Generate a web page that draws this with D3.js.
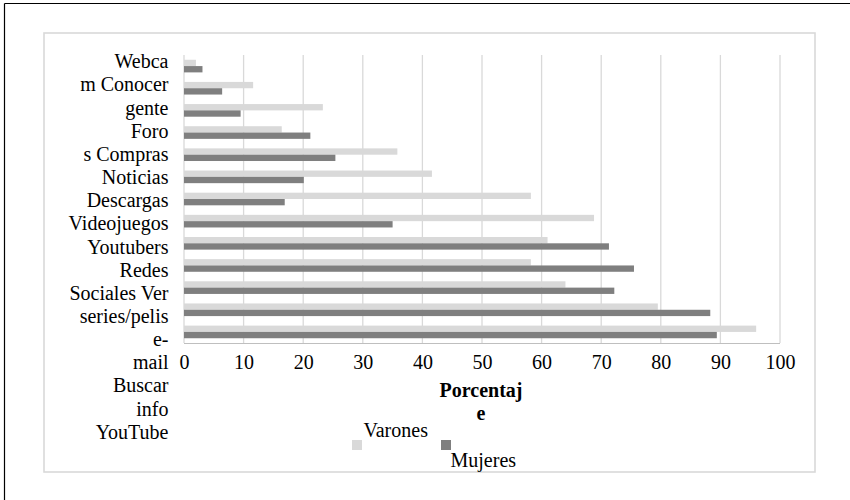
<!DOCTYPE html>
<html>
<head>
<meta charset="utf-8">
<script src="https://cdn.jsdelivr.net/npm/d3@7/dist/d3.min.js"></script>
<style>
  html, body { margin: 0; padding: 0; background: #ffffff; }
  svg { display: block; }
  text { font-family: "Liberation Serif", "Times New Roman", serif; fill: #000; }
</style>
</head>
<body>
<svg id="chart" width="850" height="500"></svg>
<script>
// Internet activities by sex (percentage)
const categories = ["Webcam", "Conocer gente", "Foros", "Compras", "Noticias", "Descargas",
  "Videojuegos", "Youtubers", "Redes Sociales", "Ver series/pelis", "e-mail", "Buscar info", "YouTube"];
const varones = [2, 11.6, 23.3, 16.4, 35.8, 41.6, 58.2, 68.8, 61, 58.2, 64, 79.5, 96];
const mujeres = [3.1, 6.4, 9.5, 21.2, 25.4, 20.1, 16.9, 35, 71.3, 75.5, 72.2, 88.3, 89.4];
const seriesNames = ["Varones", "Mujeres"];
const seriesColors = ["#d9d9d9", "#7f7f7f"];
const xTicks = [0, 10, 20, 30, 40, 50, 60, 70, 80, 90, 100];
// category text as it wraps in the narrow label column
const labelLines = ["Webca", "m Conocer", "gente", "Foro", "s Compras", "Noticias", "Descargas",
  "Videojuegos", "Youtubers", "Redes", "Sociales Ver", "series/pelis", "e-", "mail",
  "Buscar", "info", "YouTube"];
const axisTitleLines = ["Porcentaj", "e"];

const FONT_SIZE = "20px";
const svg = d3.select("#chart");

// outer frame (top and left edges)
svg.append("line").attr("x1", 4.5).attr("x2", 850).attr("y1", 3.5).attr("y2", 3.5)
  .attr("stroke", "#000").attr("stroke-width", 1.2);
svg.append("line").attr("x1", 4.5).attr("x2", 4.5).attr("y1", 3.5).attr("y2", 500)
  .attr("stroke", "#000").attr("stroke-width", 1.2);

// chart area border
svg.append("rect").attr("x", 44).attr("y", 33).attr("width", 771).attr("height", 439)
  .attr("fill", "none").attr("stroke", "#d9d9d9").attr("stroke-width", 1.6);

const plotTop = 55, plotBottom = 343;
const x = d3.scaleLinear().domain([0, 100]).range([184, 780]);
const y = d3.scaleBand().domain(categories).range([plotTop, plotBottom])
  .paddingInner(0.43).paddingOuter(0.215);
const ySub = d3.scaleBand().domain(seriesNames).range([0, y.bandwidth()]);

// vertical gridlines
svg.append("g").selectAll("line").data(xTicks).join("line")
  .attr("x1", d => x(d)).attr("x2", d => x(d))
  .attr("y1", plotTop).attr("y2", plotBottom)
  .attr("stroke", "#d9d9d9").attr("stroke-width", 1.3);

// bars
const rows = categories.map((c, i) => ({ cat: c, vals: [varones[i], mujeres[i]] }));
const groups = svg.append("g").selectAll("g").data(rows).join("g")
  .attr("transform", d => `translate(0,${y(d.cat)})`);
groups.selectAll("rect").data(d => d.vals.map((v, j) => ({ v, s: seriesNames[j], c: seriesColors[j] })))
  .join("rect")
  .attr("x", x(0))
  .attr("y", d => ySub(d.s))
  .attr("width", d => x(d.v) - x(0))
  .attr("height", ySub.bandwidth())
  .attr("fill", d => d.c);

// bottom value axis
const xAxis = svg.append("g").attr("transform", `translate(0,${plotBottom})`)
  .call(d3.axisBottom(x).tickValues(xTicks).tickSize(0).tickFormat(d3.format("d")));
xAxis.select(".domain").attr("stroke", "#bfbfbf").attr("stroke-width", 1.2)
  .attr("d", `M${x(0)},0.5H${x(100)}`);
xAxis.selectAll("text").attr("y", 26.3).attr("dy", 0)
  .style("font-family", '"Liberation Serif", "Times New Roman", serif')
  .style("font-size", FONT_SIZE).attr("fill", "#000");

// category labels
svg.append("g").selectAll("text").data(labelLines).join("text")
  .attr("x", 168.5).attr("y", (d, i) => 68.3 + i * 23.15)
  .attr("text-anchor", "end").style("font-size", FONT_SIZE).text(d => d);

// axis title
svg.append("g").selectAll("text").data(axisTitleLines).join("text")
  .attr("x", (x(0) + x(100)) / 2 - 1).attr("y", (d, i) => 396.7 + i * 23.3)
  .attr("text-anchor", "middle").style("font-size", FONT_SIZE).style("font-weight", "bold")
  .text(d => d);

// legend
const legendItems = [
  { name: seriesNames[0], color: seriesColors[0], sx: 352, sy: 440, tx: 363.5, ty: 436.7 },
  { name: seriesNames[1], color: seriesColors[1], sx: 441, sy: 440, tx: 450.5, ty: 466.7 }
];
const legend = svg.append("g");
legend.selectAll("rect").data(legendItems).join("rect")
  .attr("x", d => d.sx).attr("y", d => d.sy).attr("width", 10).attr("height", 10)
  .attr("fill", d => d.color);
legend.selectAll("text").data(legendItems).join("text")
  .attr("x", d => d.tx).attr("y", d => d.ty).style("font-size", FONT_SIZE).text(d => d.name);
</script>
</body>
</html>
